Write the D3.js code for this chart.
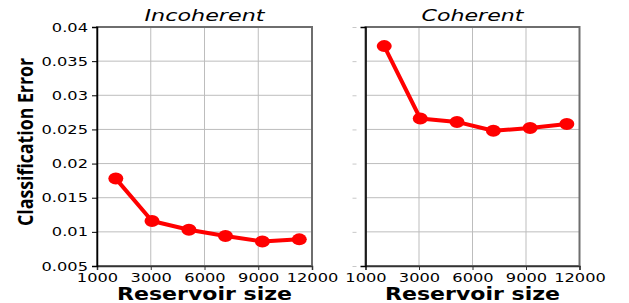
<!DOCTYPE html>
<meta charset="utf-8">
<script src="https://d3js.org/d3.v7.min.js"></script>
<style>
  body { margin: 0; background: #fff; }
  text { font-family: "DejaVu Sans", sans-serif; fill: #000; }
</style>
<div id="my_dataviz"></div>
<script>

// reservoir sizes (x)
var reservoirSize = [1050, 3070, 5130, 7170, 9230, 11290];
// classification error for each panel
var incoherentError = [0.0178, 0.0116, 0.0103, 0.0094, 0.0086, 0.0089];
var coherentError = [0.0372, 0.0266, 0.0261, 0.0248, 0.0252, 0.0258];
// tick values and labels
var xTickValues = [0, 3000, 6000, 9000, 12000];
var xTickLabels = ["1000", "3000", "6000", "9000", "12000"];
var yTickValues = [0.005, 0.01, 0.015, 0.02, 0.025, 0.03, 0.035, 0.04];
var yTickLabels = ["0.005", "0.01", "0.015", "0.02", "0.025", "0.03", "0.035", "0.04"];
var panelTitles = ["Incoherent", "Coherent"];

var W = 629, H = 303;
var plotTop = 27, plotBottom = 266;
var panels = [
    { left: 97, right: 312, title: panelTitles[0], values: incoherentError, labels: true, titleLen: 120 },
    { left: 365.5, right: 579.5, title: panelTitles[1], values: coherentError, labels: false, titleLen: 102 }
];

var svg = d3.select("#my_dataviz")
    .append("svg")
    .attr("width", W)
    .attr("height", H);

var y = d3.scaleLinear().domain([0.005, 0.04]).range([plotBottom, plotTop]);

panels.forEach(function (p) {
    var x = d3.scaleLinear().domain([0, 12000]).range([p.left, p.right]);
    var g = svg.append("g");

    // grid
    g.selectAll(".vgrid").data(xTickValues.slice(1, -1)).enter().append("line")
        .attr("x1", function (d) { return x(d); }).attr("x2", function (d) { return x(d); })
        .attr("y1", plotTop).attr("y2", plotBottom)
        .attr("stroke", "#bdbdbd").attr("stroke-width", 1);
    g.selectAll(".hgrid").data(yTickValues.slice(1, -1)).enter().append("line")
        .attr("x1", p.left).attr("x2", p.right)
        .attr("y1", function (d) { return y(d); }).attr("y2", function (d) { return y(d); })
        .attr("stroke", "#bdbdbd").attr("stroke-width", 1);

    // frame
    g.append("rect")
        .attr("x", p.left).attr("y", plotTop)
        .attr("width", p.right - p.left).attr("height", plotBottom - plotTop)
        .attr("fill", "none").attr("stroke", "#6e6e6e").attr("stroke-width", 2);

    // x axis
    var xa = g.append("g")
        .attr("transform", "translate(0," + plotBottom + ")")
        .call(d3.axisBottom(x).tickValues(xTickValues).tickSize(4).tickPadding(3)
            .tickFormat(function (d, i) { return xTickLabels[i]; }));
    xa.select(".domain").attr("stroke", "#333").attr("stroke-width", 1.5);
    xa.selectAll("line").attr("stroke", "#333");
    xa.selectAll("text")
        .attr("font-size", 12.5)
        .attr("font-family", "DejaVu Sans")
        .attr("transform", "scale(1.3,1)");

    // y axis
    var ya = g.append("g")
        .attr("transform", "translate(" + p.left + ",0)")
        .call(d3.axisLeft(y).tickValues(yTickValues).tickSize(5).tickPadding(4)
            .tickFormat(function (d, i) { return p.labels ? yTickLabels[i] : ""; }));
    ya.select(".domain").attr("stroke", "#000").attr("stroke-width", 1.5);
    if (p.labels) {
        ya.selectAll("line").attr("stroke", "#000");
        ya.selectAll("text")
            .attr("font-size", 12.5)
            .attr("font-family", "DejaVu Sans")
            .attr("x", -9 / 1.3)
            .attr("transform", "scale(1.3,1)");
    } else {
        ya.selectAll("line").attr("x1", -13).attr("x2", -9).attr("stroke", "#c8c8c8");
    }

    // line + markers
    g.append("path")
        .datum(p.values)
        .attr("fill", "none")
        .attr("stroke", "#ff0000")
        .attr("stroke-width", 4)
        .attr("stroke-linejoin", "round")
        .attr("d", d3.line()
            .x(function (d, i) { return x(reservoirSize[i]); })
            .y(function (d) { return y(d); }));
    g.selectAll(".dot").data(p.values).enter().append("ellipse")
        .attr("cx", function (d, i) { return x(reservoirSize[i]); })
        .attr("cy", function (d) { return y(d); })
        .attr("rx", 7.5).attr("ry", 6)
        .attr("fill", "#ff0000");

    var cx = (p.left + p.right) / 2;
    // title
    g.append("text")
        .attr("x", cx).attr("y", 21)
        .attr("text-anchor", "middle")
        .attr("font-size", 15)
        .attr("font-style", "italic")
        .attr("textLength", p.titleLen)
        .attr("lengthAdjust", "spacingAndGlyphs")
        .text(p.title);
    // x label
    g.append("text")
        .attr("x", cx).attr("y", 300)
        .attr("text-anchor", "middle")
        .attr("font-size", 17)
        .attr("font-weight", "bold")
        .attr("textLength", 175)
        .attr("lengthAdjust", "spacingAndGlyphs")
        .text("Reservoir size");
});

// y label
svg.append("text")
    .attr("transform", "translate(33,142) scale(1.3,1) rotate(-90)")
    .attr("text-anchor", "middle")
    .attr("font-size", 17)
    .attr("font-weight", "bold")
    .style("font-family", "'Open Sans', sans-serif")
    .attr("textLength", 168)
    .attr("lengthAdjust", "spacingAndGlyphs")
    .text("Classification Error");

</script>
